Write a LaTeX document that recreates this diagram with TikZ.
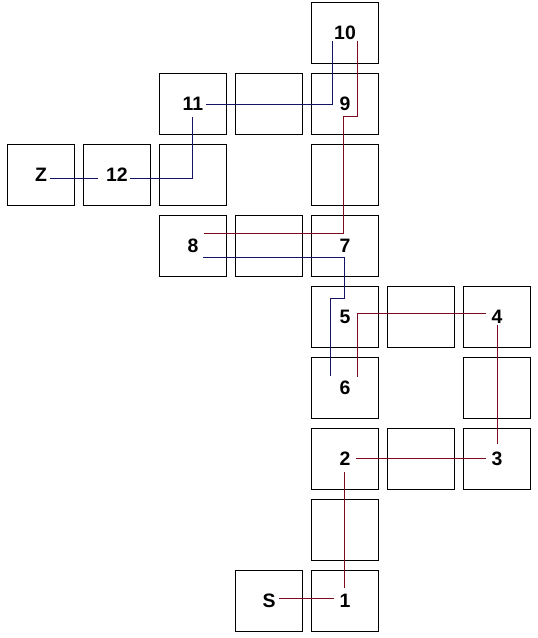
\documentclass[tikz,border=0pt]{standalone}
\usepackage{fontspec}
\setmainfont{Liberation Sans}
\usetikzlibrary{calc}
\definecolor{pathred}{RGB}{125,10,30}
\definecolor{pathblue}{RGB}{20,20,100}
\tikzset{
  cell/.style={draw=black, line width=1.8bp, minimum width=67bp, minimum height=61bp, inner sep=0pt,
    font=\fontsize{19.5}{19.5}\selectfont\bfseries},
  redline/.style={draw=pathred, line width=1.5bp},
  blueline/.style={draw=pathblue, line width=1.5bp}
}
\begin{document}
\begin{tikzpicture}[x=1bp,y=-1bp]
\useasboundingbox (0,0) rectangle (538,638);
% boxes: x = 41+76c, y = 33+71r
\node[cell] (n10) at (345,33) {10};
\node[cell] (n11) at (193,104) {11};
\node[cell] (b13) at (269,104) {};
\node[cell] (n9)  at (345,104) {9};
\node[cell] (nZ)  at (41,175) {Z};
\node[cell] (n12) at (117,175) {12};
\node[cell] (b22) at (193,175) {};
\node[cell] (b24) at (345,175) {};
\node[cell] (n8)  at (193,246) {8};
\node[cell] (b33) at (269,246) {};
\node[cell] (n7)  at (345,246) {7};
\node[cell] (n5)  at (345,317) {5};
\node[cell] (b45) at (421,317) {};
\node[cell] (n4)  at (497,317) {4};
\node[cell] (n6)  at (345,388) {6};
\node[cell] (b56) at (497,388) {};
\node[cell] (n2)  at (345,459) {2};
\node[cell] (b65) at (421,459) {};
\node[cell] (n3)  at (497,459) {3};
\node[cell] (b74) at (345,530) {};
\node[cell] (nS)  at (269,601) {S};
\node[cell] (n1)  at (345,601) {1};
% red connectors
\draw[redline] ($(nS)+(9.5,-2.5)$) -- ($(n1)+(-11.5,-2.5)$);
\draw[redline] ($(n1)+(-0.5,-13.5)$) -- ($(n2)+(-0.5,12.5)$);
\draw[redline] ($(n2)+(10.5,-0.5)$) -- ($(n3)+(-11.5,-0.5)$);
\draw[redline] ($(n3)+(0.5,-15.5)$) -- ($(n4)+(0.5,7.5)$);
\draw[redline] ($(n4)+(-11.5,-3.5)$) -| ($(n6)+(12.5,-11.5)$);
% blue connectors
\draw[blueline] ($(n6)+(-14.5,-12.5)$) -- ($(n5)+(-14.5,-18.5)$) -- ($(n5)+(-0.5,-18.5)$) -- ($(n7)+(-0.5,11.5)$) -- ($(n8)+(9.5,11.5)$);
% red connectors
\draw[redline] ($(n8)+(10.5,-12.5)$) -- ($(n7)+(-1.5,-12.5)$) -- ($(n9)+(-1.5,12.5)$) -- ($(n9)+(12.5,12.5)$) -- ($(n10)+(12.5,8.5)$);
% blue connectors
\draw[blueline] ($(n10)+(-12.5,8.5)$) -- ($(n9)+(-12.5,0.5)$) -- ($(n11)+(12.5,0.5)$);
\draw[blueline] ($(n11)+(-0.5,13.5)$) |- ($(n12)+(12.5,3.5)$);
\draw[blueline] ($(n12)+(-19.5,3.5)$) -- ($(nZ)+(8.5,3.5)$);
\end{tikzpicture}
\end{document}
